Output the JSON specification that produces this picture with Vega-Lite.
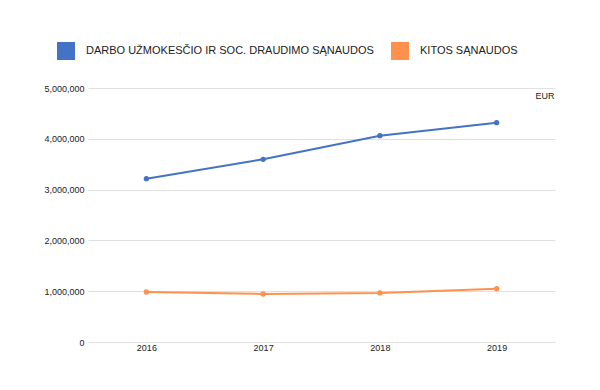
{
  "$schema": "https://vega.github.io/schema/vega-lite/v6.json",
  "width": 467,
  "height": 254,
  "autosize": "none",
  "padding": {"left": 88, "top": 88, "right": 45, "bottom": 48},
  "background": "#ffffff",
  "config": {"view": {"stroke": null}, "font": "Liberation Sans"},
  "data": {
    "values": [
      {"year": "2016", "series": "DARBO UŽMOKESČIO IR SOC. DRAUDIMO SĄNAUDOS", "value": 3215000},
      {"year": "2017", "series": "DARBO UŽMOKESČIO IR SOC. DRAUDIMO SĄNAUDOS", "value": 3596000},
      {"year": "2018", "series": "DARBO UŽMOKESČIO IR SOC. DRAUDIMO SĄNAUDOS", "value": 4062000},
      {"year": "2019", "series": "DARBO UŽMOKESČIO IR SOC. DRAUDIMO SĄNAUDOS", "value": 4317000},
      {"year": "2016", "series": "KITOS SĄNAUDOS", "value": 984000},
      {"year": "2017", "series": "KITOS SĄNAUDOS", "value": 945000},
      {"year": "2018", "series": "KITOS SĄNAUDOS", "value": 965000},
      {"year": "2019", "series": "KITOS SĄNAUDOS", "value": 1050000}
    ]
  },
  "encoding": {
    "x": {
      "field": "year", "type": "ordinal",
      "scale": {"type": "point", "padding": 0.5},
      "axis": {"title": null, "labelAngle": 0, "domain": false, "ticks": false, "grid": false, "labelFontSize": 9, "labelColor": "#222222", "labelPadding": 1}
    },
    "y": {
      "field": "value", "type": "quantitative",
      "scale": {"domain": [0, 5000000]},
      "axis": {
        "values": [0, 1000000, 2000000, 3000000, 4000000, 5000000],
        "format": ",d", "domain": false, "ticks": false,
        "labelFontSize": 9, "labelColor": "#222222", "labelPadding": 4,
        "gridColor": "#e0e0e0", "gridWidth": 1,
        "title": "EUR", "titleAngle": 0, "titleX": 466, "titleY": 7,
        "titleAlign": "right", "titleBaseline": "middle",
        "titleFontSize": 9, "titleFontWeight": "normal", "titleColor": "#222222"
      }
    },
    "color": {
      "field": "series", "type": "nominal",
      "scale": {
        "domain": ["DARBO UŽMOKESČIO IR SOC. DRAUDIMO SĄNAUDOS", "KITOS SĄNAUDOS"],
        "range": ["#4472c4", "#ff914d"]
      },
      "legend": {
        "orient": "none", "legendX": -31, "legendY": -46, "direction": "horizontal",
        "title": null, "symbolType": "square", "symbolSize": 324, "symbolStrokeWidth": 0,
        "symbolOpacity": 1, "labelFontSize": 11, "labelOffset": 11, "columnPadding": 17,
        "labelLimit": 400, "padding": 0, "labelColor": "#222222"
      }
    }
  },
  "layer": [
    {"mark": {"type": "line", "strokeWidth": 2}},
    {"mark": {"type": "point", "filled": true, "size": 28, "opacity": 1}}
  ]
}
